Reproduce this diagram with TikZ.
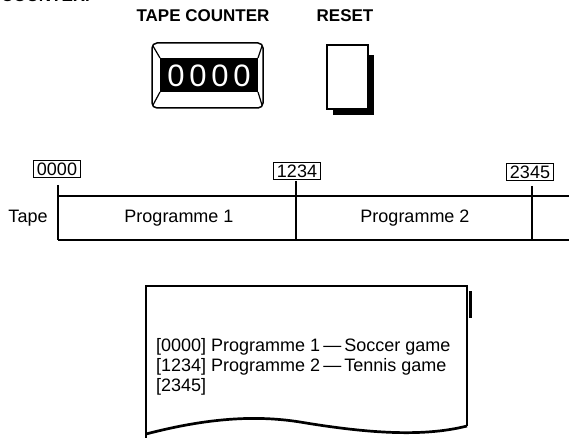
\documentclass[tikz,border=0pt]{standalone}
\usepackage{fontspec}
\setmainfont{Liberation Sans}
\begin{document}
\begin{tikzpicture}[x=1pt,y=-1pt,
  lbl/.style={font=\fontsize{18}{20}\selectfont},
  blbl/.style={font=\bfseries\fontsize{17}{20}\selectfont},
  cbox/.style={draw,line width=1.5pt,inner sep=0pt,minimum width=47pt,minimum height=17pt,font=\fontsize{18}{20}\selectfont},
  digit/.style={text=white,inner sep=0pt,font=\fontsize{31}{31}\selectfont},
  ptext/.style={anchor=base west,inner sep=0pt,font=\fontsize{18}{20}\selectfont},
  thin line/.style={line width=1.2pt},
  thick line/.style={line width=2.2pt}]
\useasboundingbox (0,0) rectangle (569,438);
% partly cut heading
\node[blbl,anchor=base west,inner sep=0pt] (head) at (1,2) {COUNTER.};
\node[blbl] (tc) at (203,16) {TAPE COUNTER};
\node[blbl] (rs) at (345,16) {RESET};
% counter
\draw[line width=1.5pt,rounded corners=5pt] (152,43) rectangle (263,108);
\fill (160,58) rectangle (258,92);
\draw[thin line] (153,46) -- (160,58) (262,46) -- (258,58) (153,105) -- (160,92) (262,105) -- (258,92);
\node[digit] (d1) at (176,76) {0};
\node[digit] (d2) at (198,76) {0};
\node[digit] (d3) at (220,76) {0};
\node[digit] (d4) at (242,76) {0};
% reset
\fill (333,55) rectangle (374,115);
\draw[line width=1.5pt,fill=white] (327,45) rectangle (368,109);
% tape
\coordinate (tl) at (58,196);
\coordinate (tr) at (569,196);
\coordinate (bl) at (58,240);
\coordinate (br) at (569,240);
\draw[thin line] (tl) -- (tr);
\draw[thick line] (bl) -- (br);
\node[cbox] (c0) at (57,169) {0000};
\node[cbox] (c1) at (297,171) {1234};
\node[cbox] (c2) at (530,172) {2345};
\draw[thick line] (58,185) -- (bl);
\draw[thin line] (296,181) -- (296,240);
\draw[thick line] (532,186) -- (532,240);
\node[lbl] (tape) at (28,218) {Tape};
\node[lbl] (p1) at (179,218) {Programme 1};
\node[lbl] (p2) at (415,218) {Programme 2};
% paper
\draw[line width=1.5pt] (146,438) -- (146,286) -- (467,286) -- (467,426);
\draw[line width=3pt] (470,291) -- (470,318);
\draw[line width=2.7pt] (146,434) .. controls (200,420) and (250,414) .. (300,422)
  .. controls (360,432) and (420,438) .. (467,426);
\node[ptext] (l1) at (156,351) {[0000] Programme 1\,—\,Soccer game};
\node[ptext] (l2) at (156,371) {[1234] Programme 2\,—\,Tennis game};
\node[ptext] (l3) at (156,391) {[2345]};
\end{tikzpicture}
\end{document}
